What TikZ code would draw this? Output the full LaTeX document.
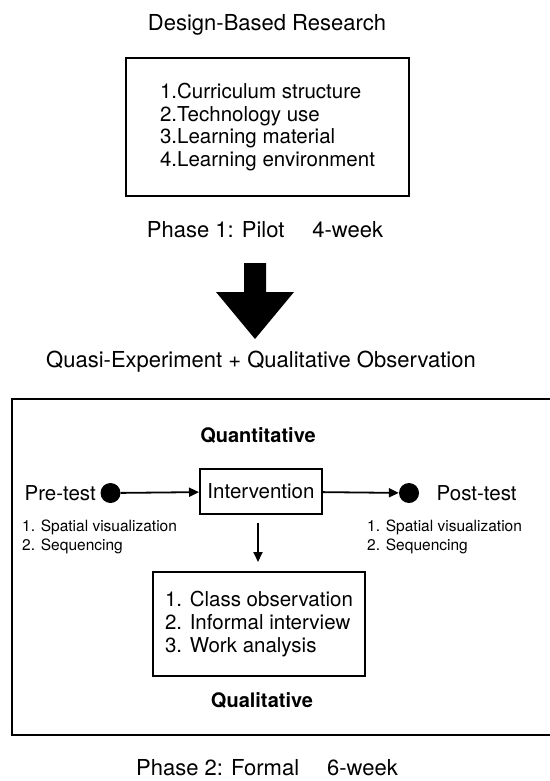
\documentclass[tikz,border=0pt]{standalone}
\usepackage{fontspec}
\setmainfont{TeX Gyre Heros}
\usetikzlibrary{positioning, arrows.meta}

\begin{document}
\begin{tikzpicture}[x=1pt, y=-1pt]
    % settings for this picture
    \tikzset{
      >={Triangle[length=10pt, width=9pt]},
      heading/.style={font=\fontsize{22}{26}\selectfont},
      label/.style={font=\fontsize{20.5}{24}\selectfont},
      bold/.style={font=\fontsize{20}{24}\selectfont\bfseries},
      measures/.style={font=\fontsize{15.5}{19}\selectfont, align=left, anchor=west, inner sep=0pt},
      box/.style={draw, line width=2pt, align=left, font=\fontsize{20.5}{22.7}\selectfont},
      dot/.style={circle, fill, minimum size=20pt, inner sep=0pt},
      link/.style={->, line width=1.8pt},
    }
    \useasboundingbox (0,0) rectangle (549,781);

    % phase 1
    \node[heading] (dbr) at (267,25) {Design-Based Research};
    \node[box, minimum width=283, minimum height=138] (design) at (267.5,127)
      {1.Curriculum structure\\2.Technology use\\3.Learning material\\4.Learning environment};
    \node[heading] (phase1) at (265,230) {Phase 1: Pilot\hspace{28pt}4-week};
    \fill (244,263) -- (266,263) -- (266,292) -- (294,292) -- (255,339)
          -- (216,292) -- (244,292) -- cycle;

    % phase 2
    \node[heading] (quasi) at (261,362) {Quasi-Experiment + Qualitative Observation};
    \draw[line width=2pt] (12,399) rectangle (553,735);
    \node[bold] (quant) at (258,435) {Quantitative};
    \node[dot] (pre) at (110.5,493) {};
    \node[label, left=1pt of pre] (pretxt) {Pre-test};
    \node[box, minimum width=122, minimum height=45] (interv) at (261,491.5) {Intervention};
    \node[dot] (post) at (409,493) {};
    \node[label, right=14pt of post] (posttxt) {Post-test};
    \node[measures] (premeas) at (22,536.5) {1. Spatial visualization\\ 2. Sequencing};
    \node[measures] (postmeas) at (367,536.5) {1. Spatial visualization\\ 2. Sequencing};
    \node[box, minimum width=212, minimum height=104] (qual) at (259,624)
      {1. Class observation\\2. Informal interview\\3. Work analysis};
    \node[bold] (qualtxt) at (262,700) {Qualitative};
    \node[heading] (phase2) at (267,768) {Phase 2: Formal\hspace{28pt}6-week};

    % connectors
    \draw[link] (pre) -- (interv);
    \draw[link] (interv) -- (post);
    \draw[link, shorten <=8pt, shorten >=9pt] ([xshift=-3pt]interv.south) -- ([xshift=-3pt]interv.south |- qual.north);

\end{tikzpicture}
\end{document}
